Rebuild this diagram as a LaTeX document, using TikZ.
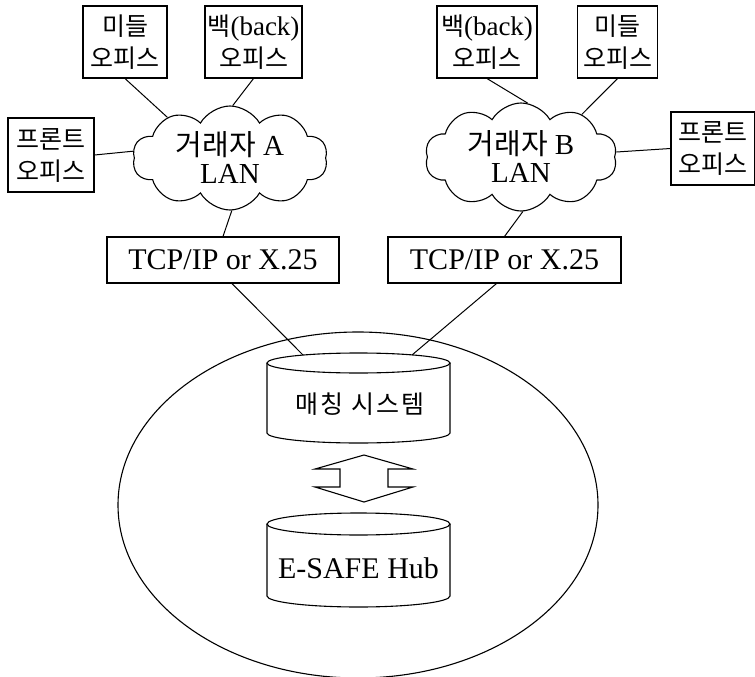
\documentclass[tikz,border=0pt]{standalone}
\usepackage{fontspec}
\setmainfont{Liberation Serif}
\newfontfamily\kr{Noto Sans CJK KR}
\newfontfamily\krwide{Noto Sans CJK KR}[LetterSpace=8]
\newcommand\kor[1]{{\kr #1}}
\usetikzlibrary{shapes.symbols,calc}
\begin{document}
\begin{tikzpicture}[x=1pt,y=-1pt,line width=1.1pt,
  officebox/.style={draw,inner sep=0pt,align=center,minimum height=72pt,
    font=\fontsize{25}{32}\selectfont},
  lan/.style={cloud,draw,cloud puffs=10,cloud puff arc=120,cloud ignores aspect,
    inner sep=0pt,align=center,font=\fontsize{29}{28}\selectfont},
  tcpbox/.style={draw,minimum width=232pt,minimum height=46pt,inner sep=0pt,
    font=\fontsize{30}{30}\selectfont},
  dbtext/.style={inner sep=0pt,font=\fontsize{30}{30}\selectfont},
  link/.style={line width=1pt}]
\useasboundingbox (0,0) rectangle (755,677);

% office boxes, side A
\node[officebox,minimum width=84pt] (midA) at (125,42) {\kor{미들}\\\kor{오피스}};
\node[officebox,minimum width=97pt] (backA) at (253.5,42) {\kor{백}{\fontsize{27}{32}\selectfont(back)}\\\kor{오피스}};
\node[officebox,minimum width=86pt,minimum height=74pt] (frontA) at (51,155) {\kor{프론트}\\\kor{오피스}};
% office boxes, side B
\node[officebox,minimum width=100pt] (backB) at (487,42) {\kor{백}{\fontsize{27}{32}\selectfont(back)}\\\kor{오피스}};
\node[officebox,minimum width=80pt] (midB) at (617.5,42) {\kor{미들}\\\kor{오피스}};
\node[officebox,minimum width=84pt,minimum height=73pt] (frontB) at (713,148.5) {\kor{프론트}\\\kor{오피스}};

% LAN clouds
\node[lan,minimum width=195pt,minimum height=104pt] (cloudA) at (230,158) {\kor{거래자} A\\LAN};
\node[lan,minimum width=192pt,minimum height=108pt] (cloudB) at (521,157) {\kor{거래자} B\\LAN};

% TCP/IP boxes
\node[tcpbox] (tcpA) at (223,260) {TCP/IP or X.25};
\node[tcpbox,minimum width=233pt] (tcpB) at (504.5,260) {TCP/IP or X.25};

% connectors top
\draw[link] (midA.south) -- (cloudA.147);
\draw[link] (backA.south) -- (cloudA.87);
\draw[link] (frontA.east) -- (cloudA.176);
\draw[link] (cloudA.272) -- (tcpA.north);
\draw[link] (backB.south) -- (cloudB.83);
\draw[link] (midB.south) -- (cloudB.35);
\draw[link] (frontB.west) -- (cloudB.3);
\draw[link] (cloudB.272) -- (tcpB.north);

% large enclosing ellipse
\draw (358,505) ellipse [x radius=240pt,y radius=173pt];

% matching system cylinder
\draw (358.5,363) ellipse [x radius=91.5pt,y radius=10pt];
\draw (267,363) -- (267,433) arc[start angle=180,end angle=360,x radius=91.5pt,y radius=10pt] -- (450,363);
\node[dbtext,font=\krwide\fontsize{25}{25}\selectfont] (match) at (360,404) {매칭 시스템};
\coordinate (mA) at (303,355);
\coordinate (mB) at (412,355);
\draw[link] ([xshift=9pt]tcpA.south) -- (mA);
\draw[link] ([xshift=-8pt]tcpB.south) -- (mB);

% double arrow
\draw (364,455) -- (413,469) -- (388,469) -- (388,487) -- (413,487) -- (364,502)
  -- (315,487) -- (340,487) -- (340,469) -- (315,469) -- cycle;

% E-SAFE Hub cylinder
\draw (358.5,524) ellipse [x radius=91.5pt,y radius=11pt];
\draw (267,524) -- (267,596) arc[start angle=180,end angle=360,x radius=91.5pt,y radius=11pt] -- (450,524);
\node[dbtext] (hub) at (358.5,568) {E-SAFE Hub};
\end{tikzpicture}
\end{document}
